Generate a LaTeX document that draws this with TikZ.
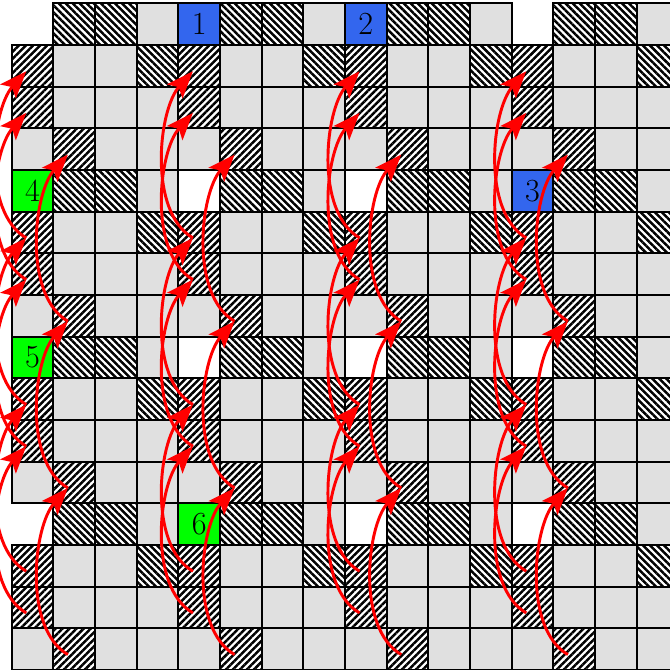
\documentclass[tikz,border=0pt]{standalone}
\usepackage{tikz}
\usetikzlibrary{arrows.meta,patterns.meta}
\definecolor{cellgray}{HTML}{E0E0E0}
\definecolor{siteblue}{HTML}{3366EE}
\definecolor{sitegreen}{HTML}{00FF00}
\definecolor{jump}{HTML}{FF0000}

\begin{document}
\begin{tikzpicture}[
  cellbox/.style={draw=black, line width=1.4pt},
  graycell/.style={cellbox, fill=cellgray},
  necell/.style={cellbox, pattern={Lines[angle=45,distance=3.4pt,line width=1.7pt]}, pattern color=black},
  nwcell/.style={cellbox, pattern={Lines[angle=-45,distance=3.4pt,line width=1.7pt]}, pattern color=black},
  sitecell/.style={cellbox, minimum size=1cm, inner sep=0pt, font=\fontsize{22}{26}\selectfont},
  jumparrow/.style={draw=jump, line width=2pt, -{Stealth[length=6.5mm,width=5mm,inset=1.4mm]}, out=150, in=228, looseness=0.8}
]
  \useasboundingbox (-0.28,0.08) rectangle (15.8,-16);
  \clip (-0.28,0.08) rectangle (15.8,-16);
  % 4x4 周期的格子
  \foreach \R in {0,4,8,12} {
    \foreach \C in {0,4,8,12} {
      \foreach \dc/\dr in {3/0,1/1,2/1,1/2,2/2,3/2,0/3,2/3,3/3}
        \draw[graycell] (\C+\dc,-\R-\dr) rectangle ++(1,-1);
      \foreach \dc/\dr in {1/0,2/0,3/1}
        \draw[nwcell] (\C+\dc,-\R-\dr) rectangle ++(1,-1);
      \foreach \dc/\dr in {0/1,0/2,1/3} {
        \draw[necell] (\C+\dc,-\R-\dr) rectangle ++(1,-1);
        \pgfmathtruncatemacro\rr{\R+\dr}
        \pgfmathtruncatemacro\cc{\C+\dc}
        \coordinate (p-\rr-\cc) at (\C+\dc+0.35,-\R-\dr-0.63);
      }
    }
  }
  % 编号格
  \node[sitecell, fill=siteblue] (s1) at (4.5,-0.5) {1};
  \node[sitecell, fill=siteblue] (s2) at (8.5,-0.5) {2};
  \node[sitecell, fill=siteblue] (s3) at (12.5,-4.5) {3};
  \node[sitecell, fill=sitegreen] (s4) at (0.5,-4.5) {4};
  \node[sitecell, fill=sitegreen] (s5) at (0.5,-8.5) {5};
  \node[sitecell, fill=sitegreen] (s6) at (4.5,-12.5) {6};
  % 向上跳四行的箭头
  \foreach \R in {4,8,12} {
    \foreach \C in {0,4,8,12} {
      \foreach \dc/\dr in {0/1,0/2,1/3} {
        \pgfmathtruncatemacro\rr{\R+\dr}
        \pgfmathtruncatemacro\ru{\R+\dr-4}
        \pgfmathtruncatemacro\cc{\C+\dc}
        \draw[jumparrow] (p-\rr-\cc) to (p-\ru-\cc);
      }
    }
  }
\end{tikzpicture}
\end{document}
